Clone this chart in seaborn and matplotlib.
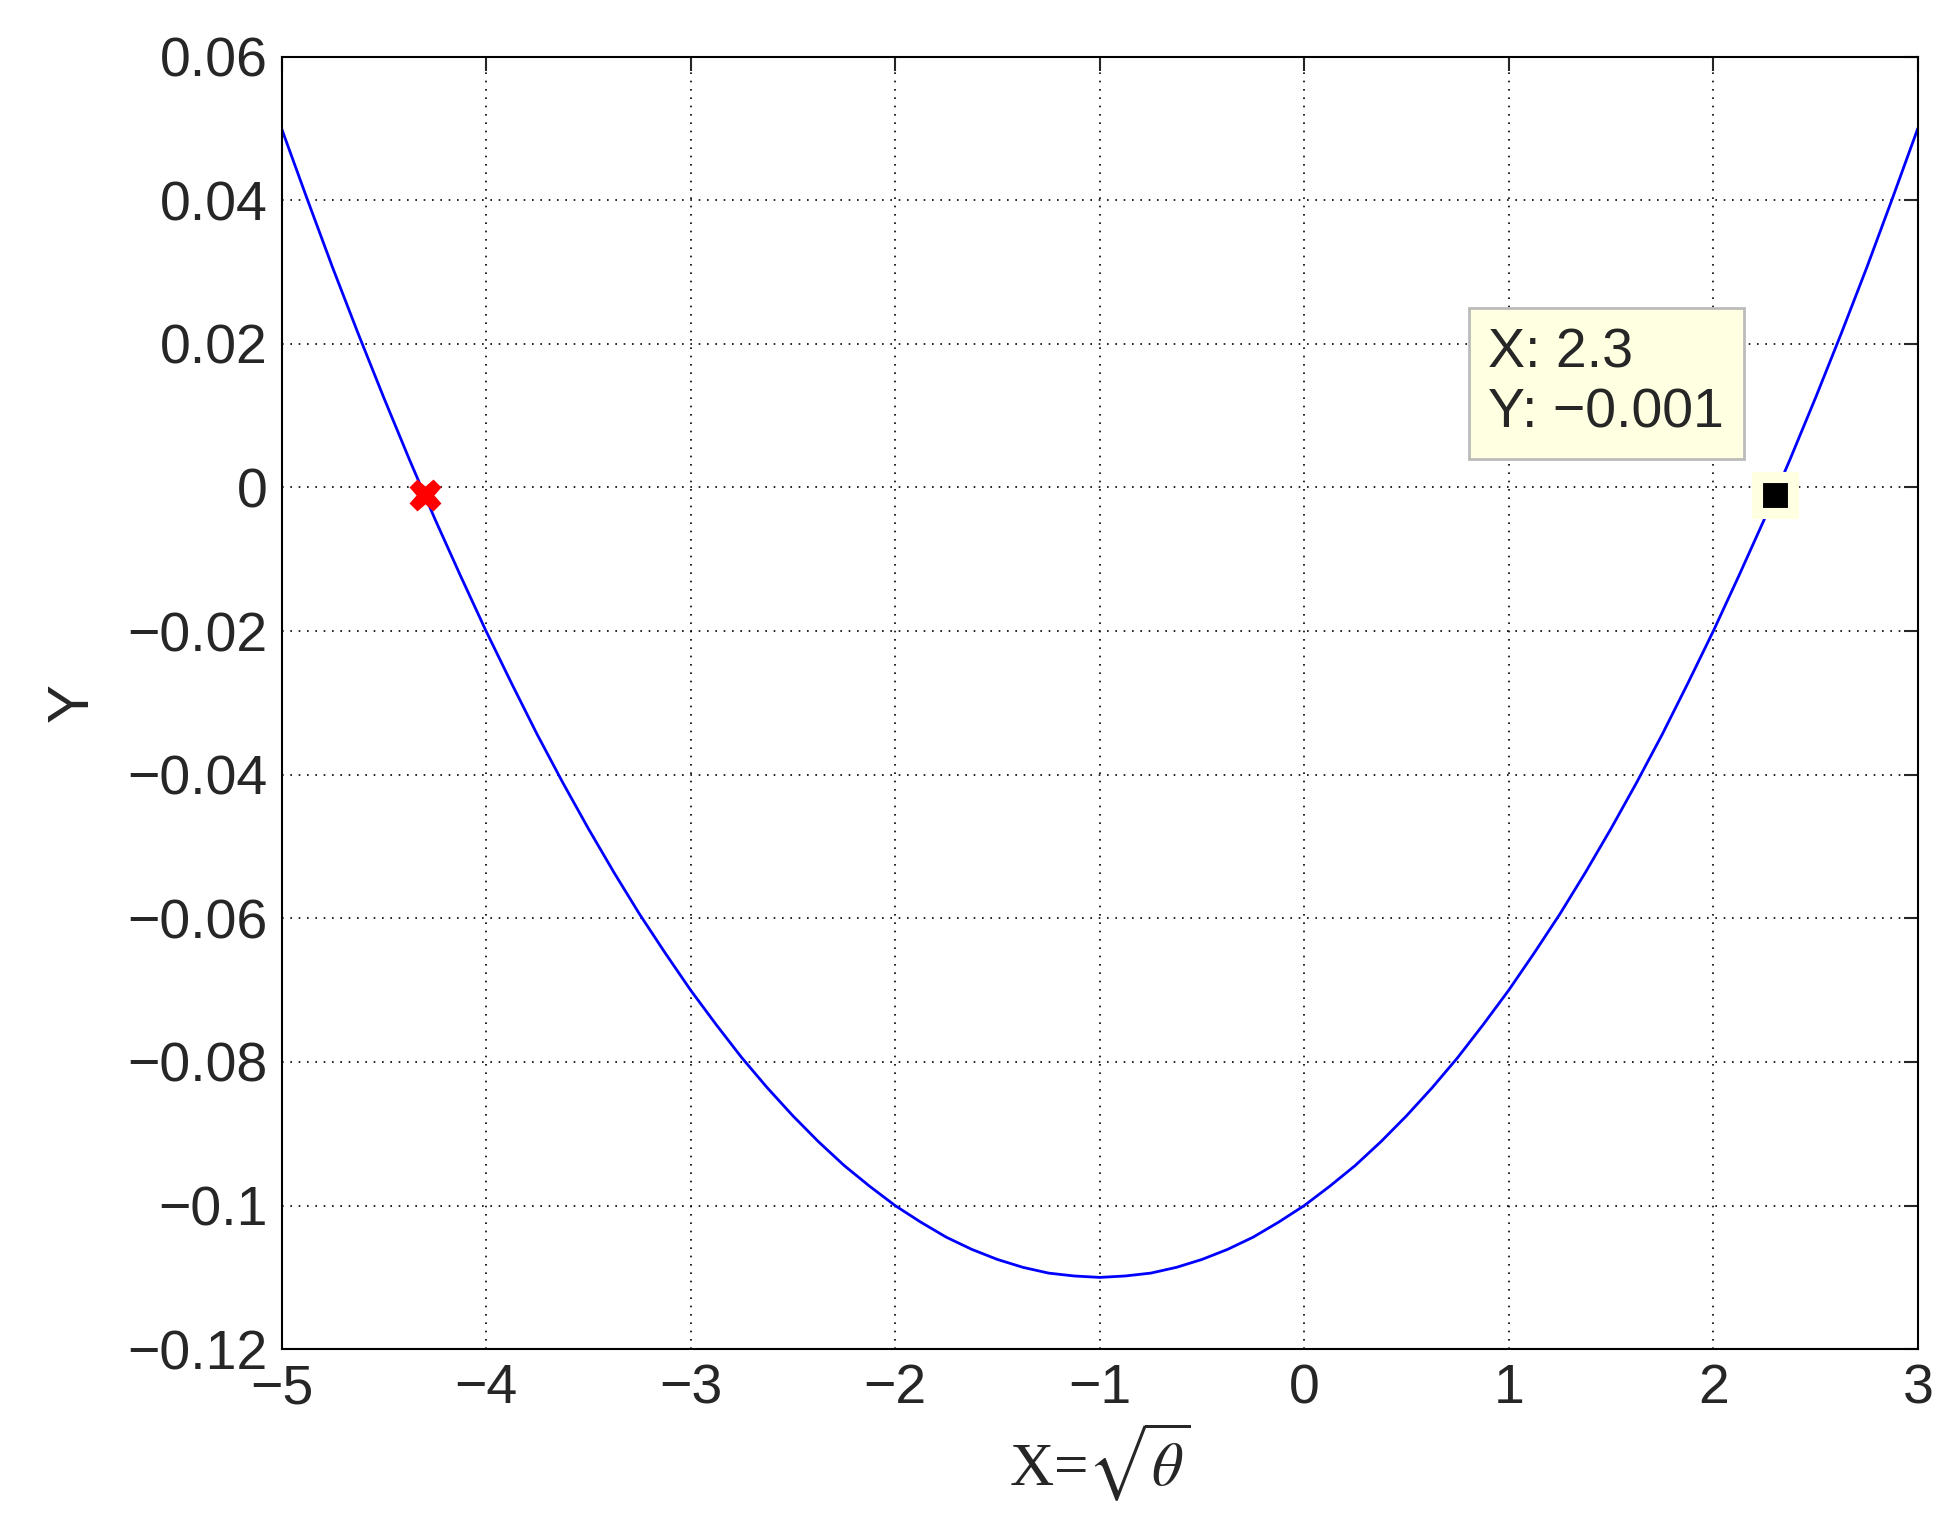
import matplotlib
matplotlib.use("Agg")
import matplotlib.pyplot as plt
import seaborn as sns
import pandas as pd

x_vals = [-5, -4.75, -4.5, -4.25, -4, -3.75, -3.5, -3.25, -3, -2.75, -2.5, -2.25, -2,
          -1.75, -1.5, -1.25, -1, -0.75, -0.5, -0.25, 0, 0.25, 0.5, 0.75, 1, 1.25,
          1.5, 1.75, 2, 2.25, 2.5, 2.75, 3]
y_vals = [0.05, 0.0306, 0.0125, -0.0044, -0.02, -0.0344, -0.0475, -0.0594, -0.07,
          -0.0794, -0.0875, -0.0944, -0.1, -0.1044, -0.1075, -0.1094, -0.11, -0.1094,
          -0.1075, -0.1044, -0.1, -0.0944, -0.0875, -0.0794, -0.07, -0.0594, -0.0475,
          -0.0344, -0.02, -0.0044, 0.0125, 0.0306, 0.05]
x_mid = [-4.875, -4.625, -4.375, -4.125, -3.875, -3.625, -3.375, -3.125, -2.875, -2.625,
         -2.375, -2.125, -1.875, -1.625, -1.375, -1.125, -0.875, -0.625, -0.375, -0.125,
         0.125, 0.375, 0.625, 0.875, 1.125, 1.375, 1.625, 1.875, 2.125, 2.375, 2.625, 2.875]
y_mid = [0.0402, 0.0214, 0.0039, -0.0123, -0.0273, -0.0411, -0.0536, -0.0648, -0.0748,
         -0.0836, -0.0911, -0.0973, -0.1023, -0.1061, -0.1086, -0.1098, -0.1098, -0.1086,
         -0.1061, -0.1023, -0.0973, -0.0911, -0.0836, -0.0748, -0.0648, -0.0536, -0.0411,
         -0.0273, -0.0123, 0.0039, 0.0214, 0.0402]
red_pt = (-4.3, -0.001)
tip_pt = (2.3, -0.001)
x_ticks = [-5, -4, -3, -2, -1, 0, 1, 2, 3]
y_ticks = [-0.12, -0.1, -0.08, -0.06, -0.04, -0.02, 0, 0.02, 0.04, 0.06]
y_tick_labels = ["\u22120.12", "\u22120.1", "\u22120.08", "\u22120.06", "\u22120.04",
                 "\u22120.02", "0", "0.02", "0.04", "0.06"]
x_tick_labels = ["\u22125", "\u22124", "\u22123", "\u22122", "\u22121", "0", "1", "2", "3"]

sns.set_style("white")
plt.rcParams['font.family'] = ['Liberation Sans', 'DejaVu Sans']
plt.rcParams['mathtext.fontset'] = 'stix'

fig = plt.figure(figsize=(19.55, 15.28), dpi=100)
ax = fig.add_axes([0.144, 0.117, 0.837, 0.846])
df = pd.DataFrame({"x": x_vals + x_mid, "y": y_vals + y_mid}).sort_values("x")
sns.lineplot(data=df, x="x", y="y", ax=ax, color="blue", linewidth=2, sort=True)
ax.plot([red_pt[0]], [red_pt[1]], marker="X", color="red", markersize=22, markeredgecolor="red")
ax.plot([tip_pt[0]], [tip_pt[1]], marker="s", color="black", markersize=26,
        markeredgecolor="#ffffe1", markeredgewidth=8)
ax.text(0.9, 0.0145, "X: 2.3\nY: \u22120.001", fontsize=40, linespacing=1.2,
        va="center", ha="left",
        bbox=dict(boxstyle="square,pad=0.35", facecolor="#ffffe1", edgecolor="#bbbbbb", linewidth=2))

ax.set_xlim(-5, 3)
ax.set_ylim(-0.12, 0.06)
ax.set_xticks(x_ticks)
ax.set_xticklabels(x_tick_labels)
ax.set_yticks(y_ticks)
ax.set_yticklabels(y_tick_labels)
ax.tick_params(direction="in", length=10, width=1.5, labelsize=40, top=True, right=True, pad=10)
ax.grid(True, linestyle=(0, (1, 4)), color="black", linewidth=1.2)
for s in ax.spines.values():
    s.set_linewidth(1.5)
    s.set_color("black")
ax.set_xlabel(r"X=$\sqrt{\theta}$", fontsize=44, family="Liberation Serif", labelpad=4)
ax.set_ylabel("Y", fontsize=42, labelpad=20)
fig.savefig("out.png", dpi=100, facecolor="white")
